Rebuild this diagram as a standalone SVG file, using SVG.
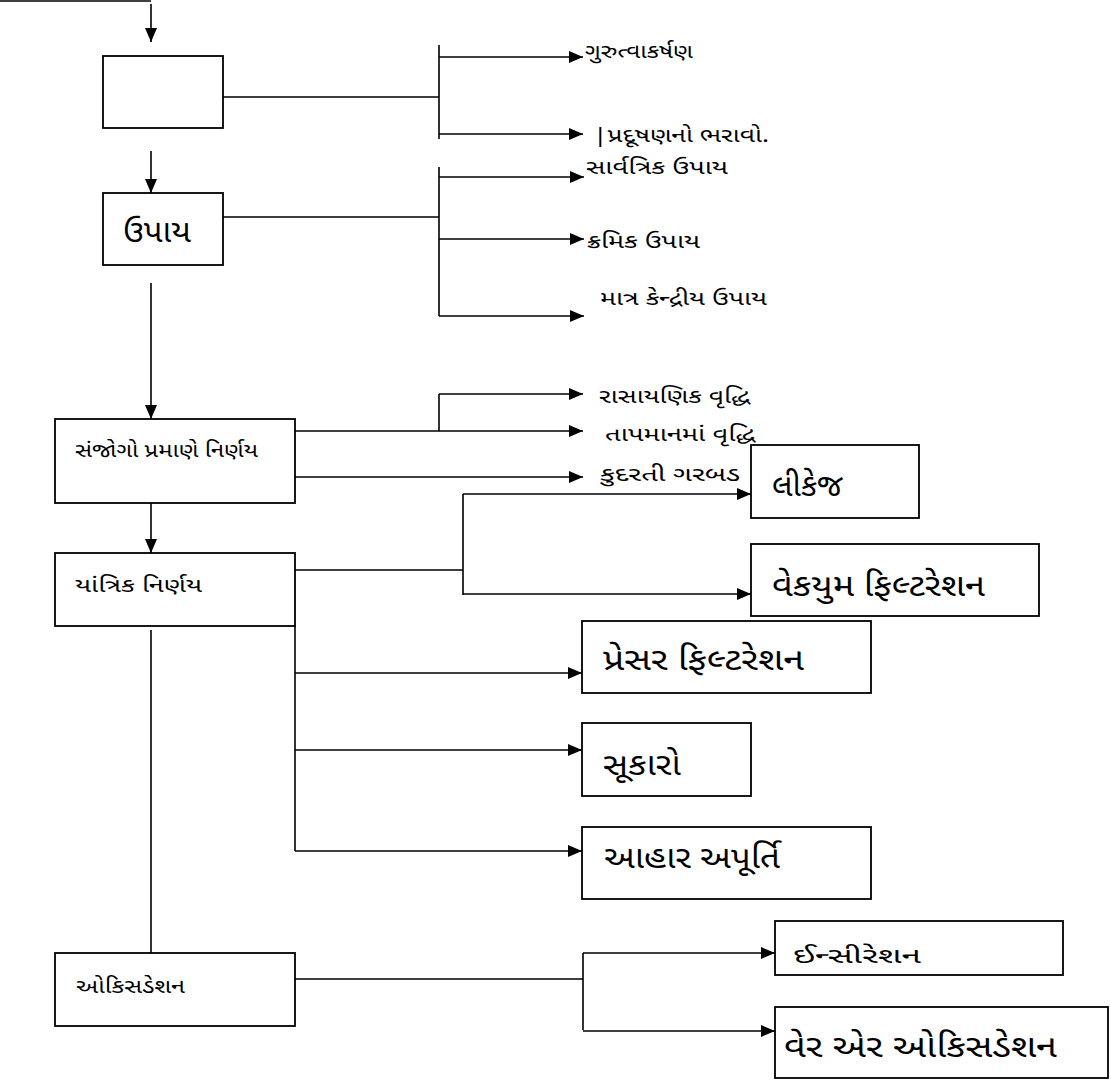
<svg xmlns="http://www.w3.org/2000/svg" width="1111" height="1083" viewBox="0 0 1111 1083">
<style>
.box{fill:#fff;stroke:#000;stroke-width:1.8}
.ln{fill:none;stroke:#000;stroke-width:1.6}
.ar{fill:none;stroke:#000;stroke-width:1.6;marker-end:url(#ah)}
text{font-family:"Noto Sans Gujarati","Lohit Gujarati","Shruti","Noto Sans",sans-serif;fill:#000}
.s{font-size:20px}
.l{font-size:31px}
.m{font-size:22px}
</style>
<defs>
<marker id="ah" markerUnits="userSpaceOnUse" markerWidth="14" markerHeight="12" refX="14" refY="6" orient="auto">
<path d="M0,0 L14,6 L0,12 z" fill="#000"/>
</marker>
</defs>
<rect width="1111" height="1083" fill="#fff"/>
<g id="connectors">
<path class="ln" d="M0,1 H151"/>
<path class="ar" d="M151,4 V42"/>
<path class="ln" d="M223,97 H439 M439,45 V139"/>
<path class="ar" d="M439,57 H583"/>
<path class="ar" d="M439,134 H583"/>
<path class="ar" d="M151,151 V193"/>
<path class="ln" d="M223,217 H439 M439,167 V316"/>
<path class="ar" d="M439,177 H584"/>
<path class="ar" d="M439,239 H584"/>
<path class="ar" d="M439,316 H584"/>
<path class="ar" d="M151,283 V419"/>
<path class="ln" d="M439,394 V431"/>
<path class="ar" d="M439,394 H583"/>
<path class="ar" d="M295,431 H583"/>
<path class="ar" d="M295,477 H583"/>
<path class="ar" d="M151,503 V553"/>
<path class="ln" d="M295,570 H463 M463,494 V595"/>
<path class="ar" d="M463,494 H751"/>
<path class="ar" d="M463,594 H751"/>
<path class="ln" d="M295,626 V851"/>
<path class="ar" d="M295,673 H582"/>
<path class="ar" d="M295,750 H582"/>
<path class="ar" d="M295,851 H582"/>
<path class="ln" d="M151,630 V953"/>
<path class="ln" d="M295,979 H583 M583,953 V1030"/>
<path class="ar" d="M583,953 H775"/>
<path class="ar" d="M583,1031 H775"/>
</g>
<g id="n-blank"><rect class="box" x="103" y="56" width="120" height="72"/></g>
<g id="n-upay"><rect class="box" x="103" y="193" width="120" height="72"/><text class="l" x="123" y="242" textLength="68" lengthAdjust="spacingAndGlyphs">ઉપાય</text></g>
<g id="n-sanjogo"><rect class="box" x="55" y="419" width="240" height="84"/><text class="s" x="75" y="457" textLength="183" lengthAdjust="spacingAndGlyphs">સંજોગો પ્રમાણે નિર્ણય</text></g>
<g id="n-yantrik"><rect class="box" x="55" y="553" width="240" height="73"/><text class="s" x="75" y="592" textLength="127" lengthAdjust="spacingAndGlyphs">યાંત્રિક નિર્ણય</text></g>
<g id="n-oxid"><rect class="box" x="55" y="953" width="240" height="73"/><text class="s" x="76" y="993" textLength="109" lengthAdjust="spacingAndGlyphs">ઓકિસડેશન</text></g>
<g id="n-leak"><rect class="box" x="751" y="445" width="168" height="73"/><text class="l" x="772" y="496" textLength="71" lengthAdjust="spacingAndGlyphs">લીકેજ</text></g>
<g id="n-vacuum"><rect class="box" x="751" y="544" width="288" height="72"/><text class="l" x="772" y="596" textLength="213" lengthAdjust="spacingAndGlyphs">વેકયુમ ફિલ્ટરેશન</text></g>
<g id="n-pressure"><rect class="box" x="582" y="621" width="289" height="72"/><text class="l" x="603" y="670" textLength="201" lengthAdjust="spacingAndGlyphs">પ્રેસર ફિલ્ટરેશન</text></g>
<g id="n-sukaro"><rect class="box" x="582" y="723" width="169" height="73"/><text class="l" x="603" y="775" textLength="78" lengthAdjust="spacingAndGlyphs">સૂકારો</text></g>
<g id="n-aahar"><rect class="box" x="582" y="827" width="289" height="72"/><text class="l" x="604" y="868" textLength="176" lengthAdjust="spacingAndGlyphs">આહાર અપૂર્તિ</text></g>
<g id="n-incin"><rect class="box" x="775" y="921" width="288" height="54"/><text class="m" x="793" y="963" textLength="128" lengthAdjust="spacingAndGlyphs">ઈન્સીરેશન</text></g>
<g id="n-wetair"><rect class="box" x="775" y="1007" width="333" height="71"/><text class="l" x="784" y="1057" textLength="273" lengthAdjust="spacingAndGlyphs">વેર એર ઓકિસડેશન</text></g>
<g id="labels">
<text class="s" x="585" y="58" textLength="108" lengthAdjust="spacingAndGlyphs">ગુરુત્વાકર્ષણ</text>
<text class="s" x="593" y="142" textLength="176" lengthAdjust="spacingAndGlyphs">|પ્રદૂષણનો ભરાવો.</text>
<text class="s" x="586" y="174" textLength="142" lengthAdjust="spacingAndGlyphs">સાર્વત્રિક ઉપાય</text>
<text class="s" x="587" y="248" textLength="113" lengthAdjust="spacingAndGlyphs">ક્રમિક ઉપાય</text>
<text class="s" x="600" y="305" textLength="167" lengthAdjust="spacingAndGlyphs">માત્ર કેન્દ્રીય ઉપાય</text>
<text class="s" x="599" y="403" textLength="151" lengthAdjust="spacingAndGlyphs">રાસાયણિક વૃદ્ધિ</text>
<text class="s" x="605" y="441" textLength="150" lengthAdjust="spacingAndGlyphs">તાપમાનમાં વૃદ્ધિ</text>
<text class="s" x="600" y="481" textLength="140" lengthAdjust="spacingAndGlyphs">કુદરતી ગરબડ</text>
</g>
</svg>
